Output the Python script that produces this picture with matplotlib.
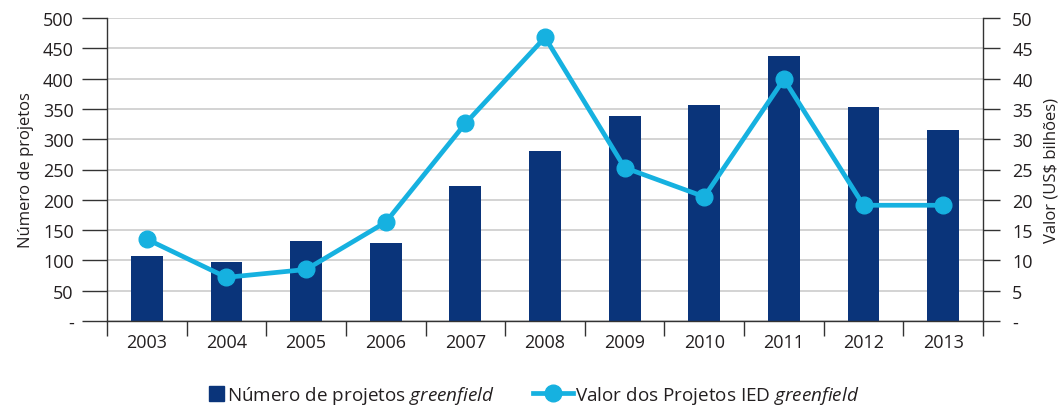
import numpy as np
import matplotlib
matplotlib.use("Agg")
import matplotlib.pyplot as plt
from matplotlib.patches import Patch
from matplotlib.lines import Line2D

# dados
anos = ["2003", "2004", "2005", "2006", "2007", "2008", "2009", "2010", "2011", "2012", "2013"]
num_projetos = [107, 97, 132, 128, 222, 280, 338, 356, 437, 353, 315]
valor_bilhoes = [13.5, 7.2, 8.5, 16.3, 32.6, 46.8, 25.3, 20.5, 39.9, 19.1, 19.1]

ticks_esq = [0, 50, 100, 150, 200, 250, 300, 350, 400, 450, 500]
ticks_dir = [0, 5, 10, 15, 20, 25, 30, 35, 40, 45, 50]

AZUL_ESCURO = "#0a347a"
AZUL_CLARO = "#16b1e0"
TEXTO = "#231f20"

plt.rcParams['font.family'] = ['Open Sans', 'DejaVu Sans']
plt.rcParams['mathtext.fontset'] = 'custom'
plt.rcParams['mathtext.rm'] = 'Open Sans'
plt.rcParams['mathtext.it'] = 'Open Sans:italic'
plt.rcParams['font.size'] = 13

fig = plt.figure(figsize=(10.64, 4.06), dpi=100)
ax1 = fig.add_axes([107 / 1064, 1 - 322 / 406, (983 - 107) / 1064, (322 - 19) / 406])
ax2 = ax1.twinx()

x = np.arange(len(anos))
ax1.bar(x, num_projetos, width=0.40, color=AZUL_ESCURO, zorder=2)
ax2.plot(x, valor_bilhoes, color=AZUL_CLARO, linewidth=3.4, marker='o',
         markersize=12, zorder=3)

# eixo esquerdo
ax1.set_ylim(0, 500)
ax1.set_yticks(ticks_esq)
ax1.set_yticklabels(["-"] + [str(t) for t in ticks_esq[1:]], color=TEXTO)
ax1.tick_params(axis='y', direction='out', length=18, width=1, pad=6, color="#333333")
ax1.yaxis.grid(True, color="#cccccc", linewidth=1.2, zorder=0)
ax1.set_axisbelow(True)
ax1.set_ylabel("Número de projetos", color=TEXTO, fontsize=12, labelpad=6)

# eixo direito
ax2.set_ylim(0, 50)
ax2.set_yticks(ticks_dir)
ax2.set_yticklabels(["-"] + [str(t) for t in ticks_dir[1:]], color=TEXTO)
ax2.tick_params(axis='y', direction='out', length=12, width=1, pad=9, color="#333333")
ax2.set_ylabel("Valor (US$ bilhões)", color=TEXTO, fontsize=12, labelpad=8)

# eixo x: traços nas divisões, rótulos no centro
ax1.set_xlim(-0.5, len(anos) - 0.5)
ax1.set_xticks(np.arange(-0.5, len(anos)), minor=False)
ax1.set_xticklabels([])
ax1.set_xticks(x, minor=True)
ax1.set_xticklabels(anos, minor=True, color=TEXTO)
ax1.tick_params(axis='x', which='major', direction='out', length=11, width=1, color="#333333")
ax1.tick_params(axis='x', which='minor', length=0, pad=9)

for ax in (ax1, ax2):
    ax.spines['top'].set_visible(False)
    for s in ('left', 'right', 'bottom'):
        ax.spines[s].set_color("#333333")
        ax.spines[s].set_linewidth(1)
ax1.spines['right'].set_visible(False)
ax2.spines['left'].set_visible(False)
ax2.spines['bottom'].set_visible(False)

# legenda
leg1 = fig.legend(handles=[Patch(color=AZUL_ESCURO)],
                  labels=[r"Número de projetos $\it{greenfield}$"],
                  loc='center left', bbox_to_anchor=(209 / 1064, 10 / 406),
                  frameon=False, handlelength=0.78, handleheight=0.8,
                  handletextpad=0.15, borderpad=0, borderaxespad=0,
                  fontsize=13.6)
for t in leg1.get_texts():
    t.set_color(TEXTO)
leg2 = fig.legend(handles=[Line2D([], [], color=AZUL_CLARO, linewidth=3.4,
                                  marker='o', markersize=12)],
                  labels=[r"Valor dos Projetos IED $\it{greenfield}$"],
                  loc='center left', bbox_to_anchor=(533 / 1064, 10 / 406),
                  frameon=False, handlelength=2.1, handletextpad=0.1,
                  borderpad=0, borderaxespad=0, fontsize=13.6)
for t in leg2.get_texts():
    t.set_color(TEXTO)

fig.savefig("out.png", dpi=100)
